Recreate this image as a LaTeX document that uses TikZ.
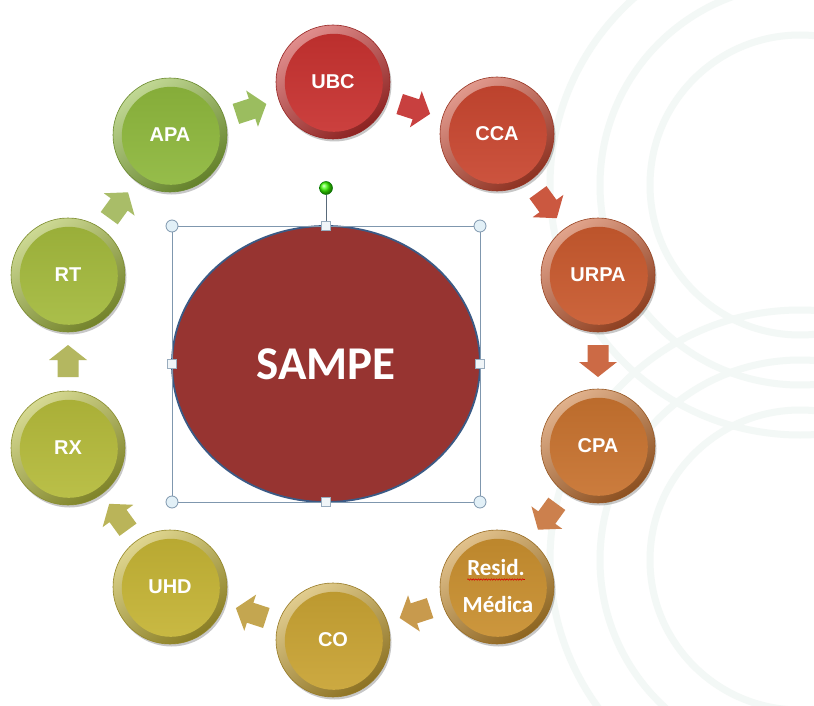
\documentclass[tikz,border=0pt]{standalone}
\usepackage{fontspec}
\setmainfont{Liberation Sans}
\newfontfamily\calfont{Carlito}
\usetikzlibrary{shapes.geometric,shadows,decorations.pathmorphing,calc}
\definecolor{cUBC}{HTML}{C8312F}
\definecolor{cCCA}{HTML}{C9462F}
\definecolor{cURPA}{HTML}{C9592D}
\definecolor{cCPA}{HTML}{C8722E}
\definecolor{cRES}{HTML}{C98F2E}
\definecolor{cCO}{HTML}{C9A332}
\definecolor{cUHD}{HTML}{C5B434}
\definecolor{cRX}{HTML}{B5BB3A}
\definecolor{cRT}{HTML}{A4BA3C}
\definecolor{cAPA}{HTML}{8EB83C}
\definecolor{a0}{HTML}{C8403F}
\definecolor{a1}{HTML}{CB5840}
\definecolor{a2}{HTML}{CC6A45}
\definecolor{a3}{HTML}{CC804D}
\definecolor{a4}{HTML}{C89A4D}
\definecolor{a5}{HTML}{C4A650}
\definecolor{a6}{HTML}{BAB459}
\definecolor{a7}{HTML}{B4B760}
\definecolor{a8}{HTML}{A9BD68}
\definecolor{a9}{HTML}{9BBD5F}
\definecolor{sampefill}{HTML}{973431}
\definecolor{sampeline}{HTML}{3B5A85}
\definecolor{selc}{HTML}{7F97AE}
\definecolor{handlefill}{HTML}{E2F0F7}
\definecolor{bgarc}{HTML}{F3F8F6}
\tikzset{
  bub/.style={circle, minimum size=114pt, inner sep=0pt, outer sep=0pt,
    text=white, font=\bfseries\fontsize{20}{24}\selectfont,
    top color=#1!55!white, bottom color=#1!70!black, shading angle=35,
    draw=#1!75!black, line width=0.6pt,
    drop shadow={opacity=0.22, shadow xshift=1.5pt, shadow yshift=-2.5pt, fill=black},
    path picture={\shade[top color=#1!93!black, bottom color=#1!92!white]
      ([xshift=0.8pt,yshift=-0.8pt]path picture bounding box.center) circle (49pt);}},
  lab2/.style={inner sep=0pt, outer sep=0pt, text=white, font=\calfont\bfseries\fontsize{23}{26}\selectfont},
  hcirc/.style={circle, draw=selc, fill=handlefill, line width=0.8pt, minimum size=12pt, inner sep=0pt},
  hsq/.style={rectangle, draw=selc!80, fill=handlefill!80!selc!30, line width=0.6pt, minimum size=9pt, inner sep=0pt},
  rothandle/.style={circle, draw=green!45!black, ball color=green!70!lime, line width=0.5pt, minimum size=13pt, inner sep=0pt},
  blockarrow/.style={fill=#1},
}
\begin{document}
\begin{tikzpicture}[x=1pt,y=-1pt]
\useasboundingbox (0,0) rectangle (814,706);
\fill[white] (0,0) rectangle (814,706);
% faint background swirls
\begin{scope}
  \clip (420,0) rectangle (814,706);
  \foreach \r in {150,200,250} {
    \draw[bgarc, line width=7pt] (800,185) circle (\r);
    \draw[bgarc, line width=7pt] (800,560) circle (\r);
  }
\end{scope}
% block arrows between bubbles
\foreach \k in {0,...,9} {
  \pgfmathsetmacro\ang{18+36*\k}
  \fill[blockarrow=a\k, shift={({333+265*sin(\ang)},{361-265*cos(\ang)})}, rotate=-\ang]
    (-16,-10.5) -- (1,-10.5) -- (1,-19) -- (16,0) -- (1,19) -- (1,10.5) -- (-16,10.5) -- cycle;
}
% bubbles
\node[bub=cUBC]  (ubc)  at (333,82)  {UBC};
\node[bub=cCCA]  (cca)  at (497,134) {CCA};
\node[bub=cURPA] (urpa) at (598,275) {URPA};
\node[bub=cCPA]  (cpa)  at (598,446) {CPA};
\node[bub=cRES]  (res)  at (497,587) {};
\node[bub=cCO]   (co)   at (333,640) {CO};
\node[bub=cUHD]  (uhd)  at (170,587) {UHD};
\node[bub=cRX]   (rx)   at (68,448)  {RX};
\node[bub=cRT]   (rt)   at (68,275)  {RT};
\node[bub=cAPA]  (apa)  at (170,135) {APA};
\node[lab2, anchor=base] (res1) at (496,575) {Resid.};
\node[lab2, anchor=base] (res2) at (498,612) {Médica};
\draw[red!85!black, line width=0.6pt, decorate, decoration={snake, amplitude=0.7pt, segment length=2.6pt}]
  ([yshift=-4.5pt]res1.base west) -- ([yshift=-4.5pt]res1.base east);
% central ellipse
\node[ellipse, draw=sampeline, line width=1.8pt, fill=sampefill, minimum width=308pt, minimum height=276pt,
      inner sep=0pt, outer sep=0pt, text=white, font=\calfont\bfseries\fontsize{47}{50}\selectfont]
      (sampe) at (326,364) {SAMPE};
% selection frame
\draw[selc, line width=0.9pt] (sampe.west |- sampe.north) rectangle (sampe.east |- sampe.south);
\node[rothandle] (rh) at ($(sampe.north)+(0,-38)$) {};
\draw[selc!70!black, line width=0.8pt] (rh) -- (sampe.north);
\node[hcirc] (c1) at (sampe.west |- sampe.north) {};
\node[hcirc] (c2) at (sampe.east |- sampe.north) {};
\node[hcirc] (c3) at (sampe.west |- sampe.south) {};
\node[hcirc] (c4) at (sampe.east |- sampe.south) {};
\node[hsq] (s1) at (sampe.north) {};
\node[hsq] (s2) at (sampe.south) {};
\node[hsq] (s3) at (sampe.west) {};
\node[hsq] (s4) at (sampe.east) {};
\end{tikzpicture}
\end{document}
